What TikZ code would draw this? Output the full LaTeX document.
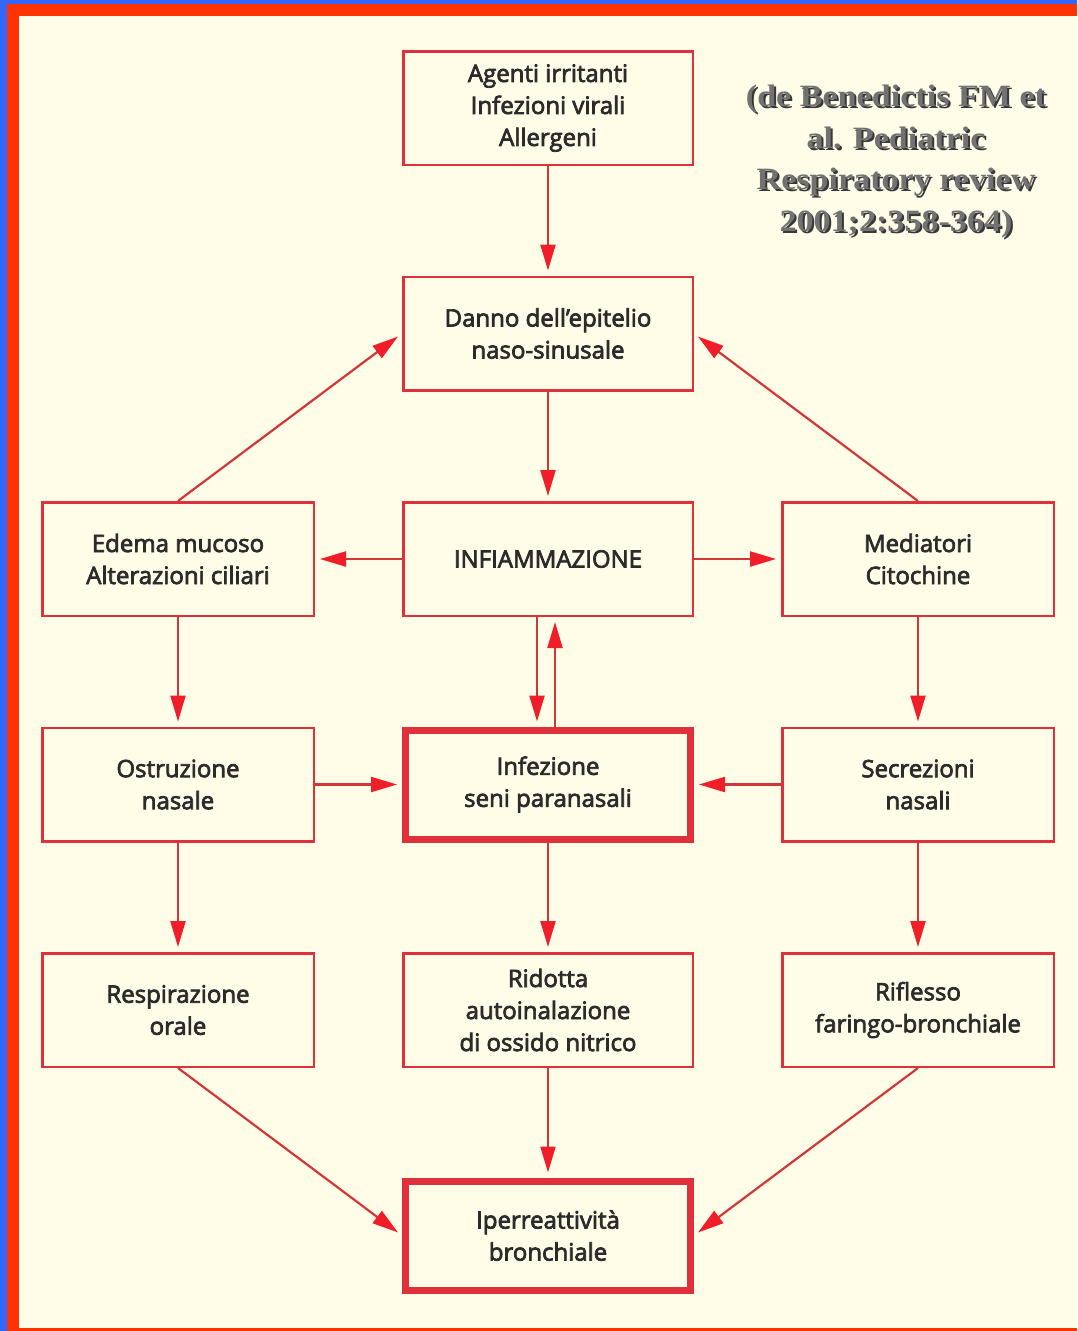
\documentclass[tikz,border=0pt]{standalone}
\usepackage{fontspec}
\setmainfont{Open Sans}
\newfontfamily\boxfont[Ligatures=TeX, FakeBold=3]{Open Sans}
\newfontfamily\citefont[FakeStretch=1.1]{Liberation Serif}
\usetikzlibrary{arrows.meta}

\definecolor{frameblue}{HTML}{3366FF}
\definecolor{framered}{HTML}{FF3300}
\definecolor{paper}{HTML}{FFFCE8}
\definecolor{boxred}{HTML}{E0303C}
\definecolor{linered}{HTML}{D03838}
\definecolor{tipred}{HTML}{F01E28}
\definecolor{ink}{HTML}{2B2B2B}
\definecolor{citegray}{HTML}{727272}
\definecolor{citeshade}{HTML}{383838}

\begin{document}
\begin{tikzpicture}[x=1pt, y=1pt,
	box/.style={draw=boxred, line width=2.5pt, minimum width=289.5pt, minimum height=113.5pt, inner sep=0pt, align=center, text=ink, font=\boxfont\fontsize{24}{32}\selectfont},
	sidebox/.style={box, minimum width=271.5pt},
	keybox/.style={box, line width=7pt, minimum width=285pt, minimum height=109pt},
	arrow/.style={draw=linered, line width=2.2pt, -{Triangle[length=26pt, width=15pt, color=tipred]}, shorten >=5pt},
	citetext/.style={inner sep=0pt, align=center, font=\citefont\bfseries\fontsize{31}{41.5}\selectfont},
	node distance=225.5pt]

		% frame
		\useasboundingbox (0,0) rectangle (1077,-1331);
		\fill[frameblue] (0,0) rectangle (1077,-1331);
		\fill[framered] (7,-4) rectangle (1077,-1331);
		\fill[paper] (19,-16) rectangle (1077,-1328);

		\node (1)[box] at (548,-108) {Agenti irritanti\\Infezioni virali\\Allergeni};
		\node (2)[box, below of = 1] {Danno dell'epitelio\\naso-sinusale};

		\node (3)[box, below of = 2] {INFIAMMAZIONE};
		\node (4)[sidebox, left of = 3, node distance=370pt] {Edema mucoso\\Alterazioni ciliari};
		\node (5)[sidebox, right of = 3, node distance=370pt] {Mediatori\\Citochine};

		\node (6)[sidebox, below of = 4] {Ostruzione\\nasale};
		\node (7)[keybox, below of = 3] {Infezione\\seni paranasali};
		\node (8)[sidebox, below of = 5] {Secrezioni\\nasali};

		\node (9)[sidebox, below of = 6] {Respirazione\\orale};
		\node (10)[box, below of = 7] {Ridotta\\autoinalazione\\di ossido nitrico};
		\node (11)[sidebox, below of = 8] {Riflesso\\faringo-bronchiale};

		\node (12)[keybox, below of = 10] {Iperreattività\\bronchiale};

		% reference
		\node (citeshadow)[citetext, text=citeshade] at (898,-163.5) {(de Benedictis FM et\\al. Pediatric\\Respiratory review\\2001;2:358-364)};
		\node (cite)[citetext, text=citegray] at (896,-161.5) {(de Benedictis FM et\\al. Pediatric\\Respiratory review\\2001;2:358-364)};

		\draw [arrow](1) to (2);
		\draw [arrow](2) to (3);
		\draw [arrow](3) to (4);
		\draw [arrow](3) to (5);
		\draw [arrow](4.north) to (2.west);
		\draw [arrow](5.north) to (2.east);

		\draw [arrow]([xshift=-11pt]3.south) to ([xshift=-11pt]7.north);
		\draw [arrow]([xshift=7pt]7.north) to ([xshift=7pt]3.south);

		\draw [arrow](4) to (6);
		\draw [arrow](5) to (8);
		\draw [arrow](6) to (7);
		\draw [arrow](8) to (7);

		\draw [arrow](6) to (9);
		\draw [arrow](7) to (10);
		\draw [arrow](8) to (11);

		\draw [arrow](9.south) to (12.west);
		\draw [arrow](10) to (12);
		\draw [arrow](11.south) to (12.east);
	\end{tikzpicture}
\end{document}
